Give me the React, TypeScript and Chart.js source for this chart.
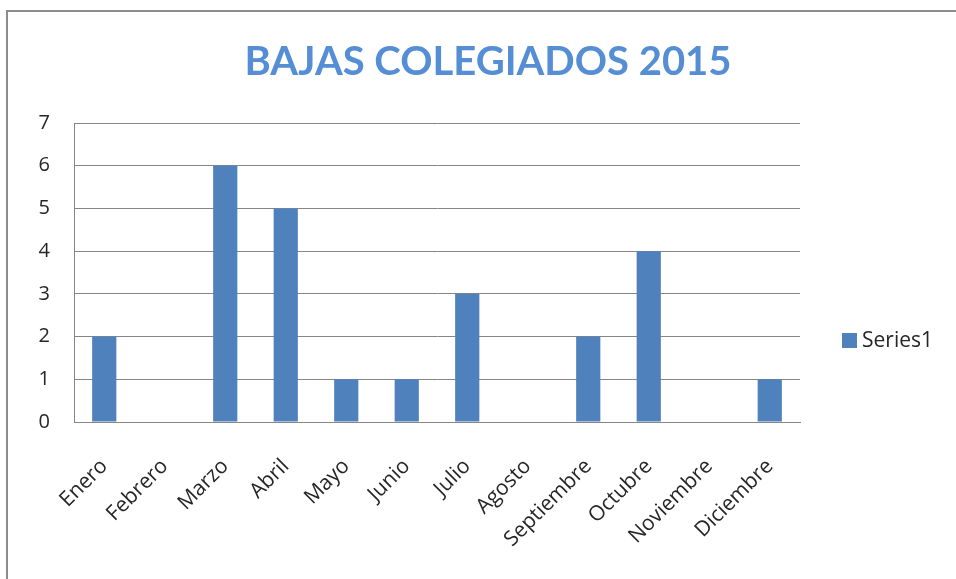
import React, { useEffect, useRef } from "react";
import { Chart, registerables } from "chart.js";

Chart.register(...registerables);

const TITLE = "BAJAS COLEGIADOS 2015";
const SERIES_NAME = "Series1";
const MONTHS = [
  "Enero", "Febrero", "Marzo", "Abril", "Mayo", "Junio",
  "Julio", "Agosto", "Septiembre", "Octubre", "Noviembre", "Diciembre",
];
const VALUES = [2, 0, 6, 5, 1, 1, 3, 0, 2, 4, 0, 1];
const Y_MIN = 0;
const Y_MAX = 7;
const Y_STEP = 1;

const BAR_COLOR = "#4F81BD";
const TITLE_COLOR = "#558ED5";
const GRID_COLOR = "#868686";
const TEXT_COLOR = "#262626";
const TITLE_FONT = "Lato, 'Open Sans', sans-serif";
const FONT = "'Open Sans', Lato, sans-serif";

const decorPlugin = {
  id: "decor",
  afterDraw(chart: any) {
    const ctx = chart.ctx as CanvasRenderingContext2D;
    const area = chart.chartArea;
    ctx.save();
    // frame
    ctx.strokeStyle = "#8C8C8C";
    ctx.lineWidth = 2;
    ctx.beginPath();
    ctx.moveTo(7, chart.height);
    ctx.lineTo(7, 11);
    ctx.lineTo(chart.width, 11);
    ctx.stroke();
    // title
    ctx.fillStyle = TITLE_COLOR;
    ctx.font = `bold 40px ${TITLE_FONT}`;
    ctx.textAlign = "center";
    ctx.textBaseline = "middle";
    ctx.fillText(TITLE, 488, 62);
    // legend
    const lx = area.right + 42;
    const ly = 341;
    ctx.fillStyle = BAR_COLOR;
    ctx.fillRect(lx, ly - 8, 15, 15);
    ctx.fillStyle = TEXT_COLOR;
    ctx.font = `21px ${FONT}`;
    ctx.textAlign = "left";
    ctx.textBaseline = "middle";
    ctx.fillText(SERIES_NAME, lx + 20, ly);
    ctx.restore();
  },
};

export default function App() {
  const ref = useRef<HTMLCanvasElement | null>(null);
  useEffect(() => {
    if (!ref.current) return;
    const chart = new Chart(ref.current, {
      type: "bar",
      data: {
        labels: MONTHS,
        datasets: [
          {
            label: SERIES_NAME,
            data: VALUES,
            backgroundColor: BAR_COLOR,
            categoryPercentage: 1,
            barPercentage: 0.4,
          },
        ],
      },
      options: {
        animation: false,
        responsive: false,
        layout: { padding: { top: 123, right: 156, left: 0, bottom: 0 } },
        plugins: {
          legend: { display: false },
          title: { display: false },
          tooltip: { enabled: false },
        },
        scales: {
          x: {
            grid: { display: false, drawTicks: false },
            border: { display: true, color: GRID_COLOR, width: 1 },
            ticks: {
              color: TEXT_COLOR,
              font: { family: FONT, size: 21 },
              minRotation: 45,
              maxRotation: 45,
              padding: 32,
              autoSkip: false,
            },
            afterFit: (s: any) => {
              s.height = 157;
            },
          },
          y: {
            min: Y_MIN,
            max: Y_MAX,
            grid: { color: GRID_COLOR, drawTicks: false, lineWidth: 1 },
            border: { display: true, color: GRID_COLOR, width: 1 },
            ticks: {
              stepSize: Y_STEP,
              color: TEXT_COLOR,
              font: { family: FONT, size: 20 },
              padding: 24,
            },
            afterFit: (s: any) => {
              s.width = 74;
            },
          },
        },
      },
      plugins: [decorPlugin],
    });
    return () => chart.destroy();
  }, []);
  return (
    <div style={{ position: "fixed", left: 0, top: 0, width: 956, height: 579, background: "#fff" }}>
      <canvas ref={ref} width={956} height={579} style={{ display: "block" }} />
    </div>
  );
}
